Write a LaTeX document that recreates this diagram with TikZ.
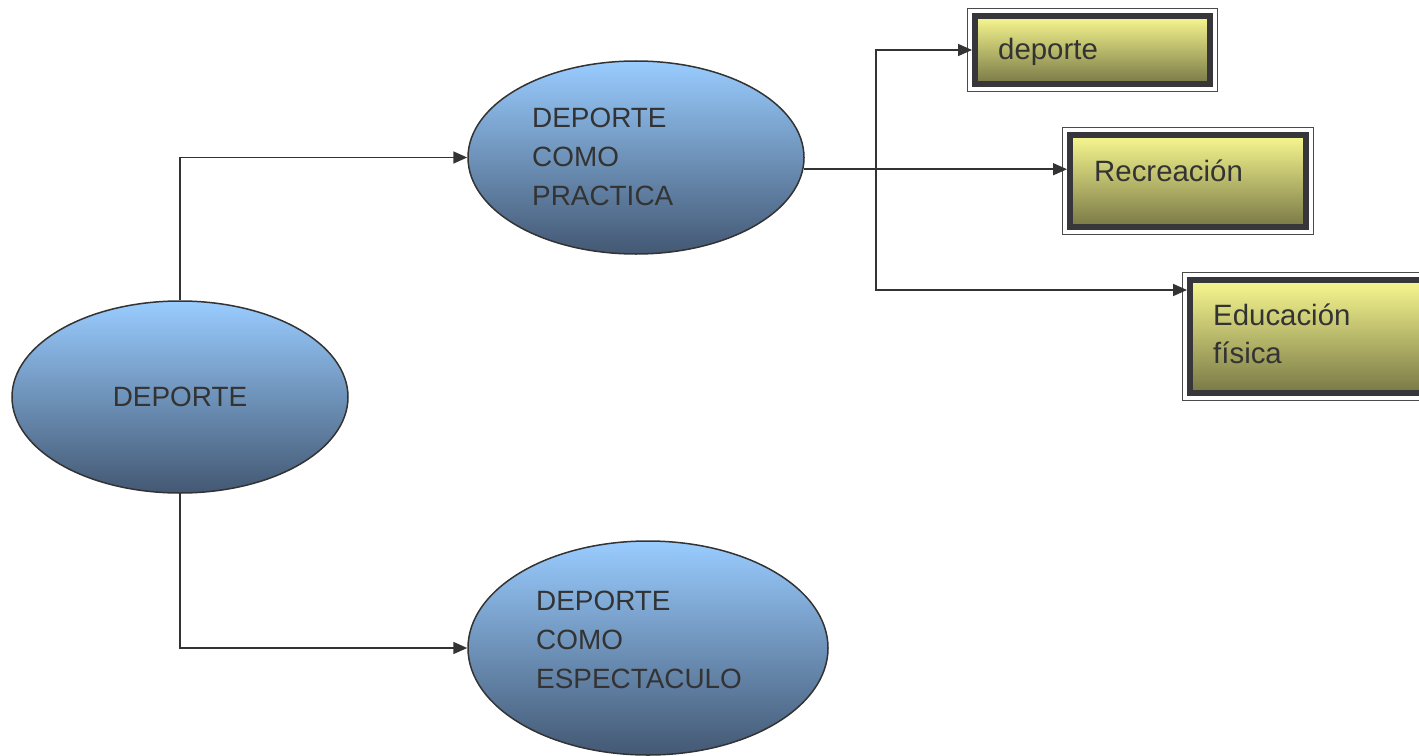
\documentclass[tikz,border=0pt]{standalone}
\usepackage{fontspec}
\setmainfont{Liberation Sans}
\usetikzlibrary{shapes.geometric,arrows.meta,calc}
\definecolor{ink}{HTML}{333333}
\definecolor{btop}{HTML}{99CCFF}
\definecolor{bbot}{HTML}{435873}
\definecolor{ytop}{HTML}{F8F890}
\definecolor{ybot}{HTML}{787846}
\definecolor{framec}{HTML}{36363B}
\definecolor{thinc}{HTML}{4A4A4A}
\begin{document}
\begin{tikzpicture}[x=1bp,y=-1bp,
  bell/.style={ellipse, draw=ink, line width=1.5bp, top color=btop, bottom color=bbot, inner sep=0pt,
    text=ink, font=\fontsize{28}{39}\selectfont},
  ybox/.style={rectangle, draw=framec, line width=6bp, top color=ytop, bottom color=ybot, inner sep=0pt},
  thinframe/.style={draw=thinc, line width=1.5bp},
  txt/.style={inner sep=0pt, align=left, text=ink, font=\fontsize{28}{39}\selectfont},
  btxt/.style={inner sep=0pt, align=left, text=ink, font=\fontsize{29.5}{38}\selectfont},
  arr/.style={draw=ink, line width=1.7bp, -{Triangle[length=14bp,width=12bp]}}
]
\useasboundingbox (0,0) rectangle (1419,755);

% ellipses
\node[bell, minimum width=336bp, minimum height=192bp] (D) at (180,397) {DEPORTE};
\node[bell, minimum width=336bp, minimum height=193bp] (P) at (636,157.5) {};
\node[bell, minimum width=360bp, minimum height=214bp] (S) at (648,648) {};
\node[txt, anchor=west] (Pt) at (532,157) {DEPORTE\\COMO\\PRACTICA};
\node[txt, anchor=west] (St) at (536,640) {DEPORTE\\COMO\\ESPECTACULO};

% boxes
\node[ybox, minimum width=235bp, minimum height=68bp] (b1) at (1092.5,50) {};
\node[ybox, minimum width=236bp, minimum height=92bp] (b2) at (1188,181) {};
\node[ybox, minimum width=240bp, minimum height=113bp] (b3) at (1310,336.5) {};
\foreach \b in {b1,b2,b3}{
  \draw[thinframe] ([shift={(-4.5,-4.5)}]\b.north west) rectangle ([shift={(4.5,4.5)}]\b.south east);
}
\node[btxt, anchor=west] (t1) at (998,52) {deporte};
\node[btxt, anchor=west] (t2) at (1094,171) {Recreación};
\node[btxt, anchor=west] (t3) at (1213,334) {Educación\\física};

% connectors
\draw[arr] (D.north) |- (P.west);
\draw[arr] (D.south) |- (S.west);
\coordinate (j) at (876,169);
\coordinate (j2) at (876,290);
\draw[arr] (P.-4) -- (P.-4 -| b2.west);
\draw[arr] (j) |- (b1.west);
\draw[arr] (j) -- (j2) -- (j2 -| b3.west);
\end{tikzpicture}
\end{document}
